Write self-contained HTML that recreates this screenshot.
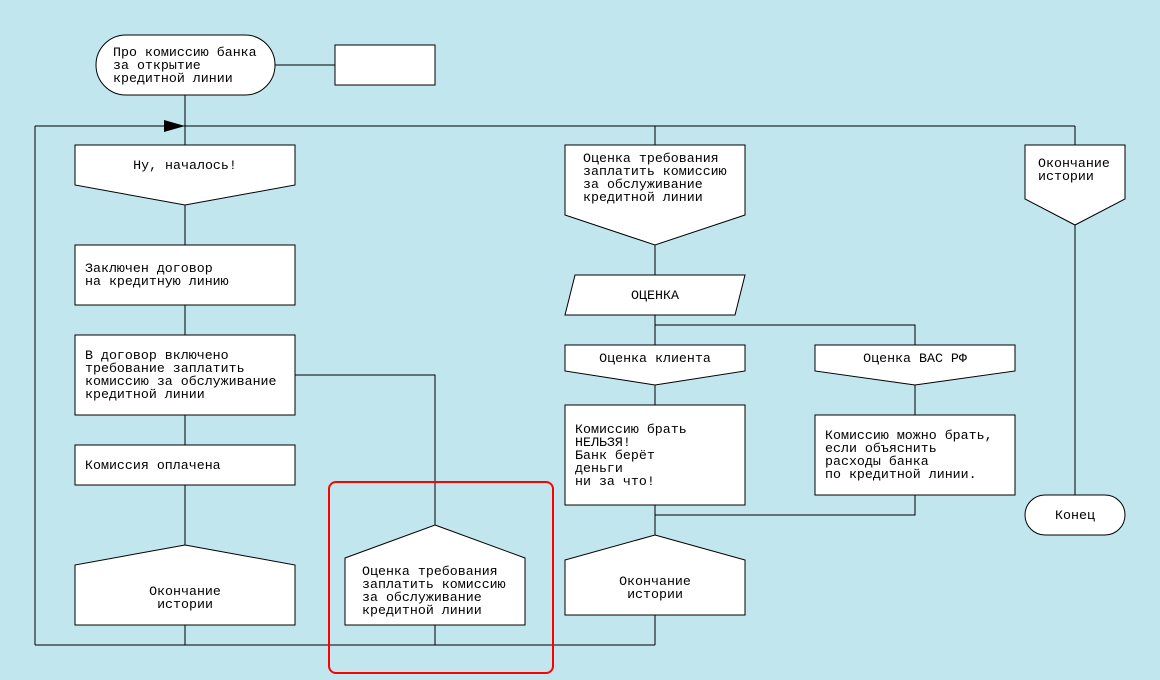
<!DOCTYPE html>
<html><head><meta charset="utf-8"><style>
html,body{margin:0;padding:0;background:#c2e6ee;}
svg{display:block}
text{font-family:"Liberation Mono","DejaVu Sans Mono",monospace;font-size:13.3px;fill:#000;}
</style></head><body>
<svg width="1160" height="680" viewBox="0 0 1160 680" xmlns="http://www.w3.org/2000/svg">
<rect width="1160" height="680" fill="#c2e6ee"/>
<g stroke="#000" stroke-width="1" fill="none">
<line x1="275" y1="65" x2="335" y2="65"/>
<line x1="185" y1="95" x2="185" y2="645"/>
<line x1="35" y1="126" x2="1075" y2="126"/>
<line x1="35" y1="126" x2="35" y2="645"/>
<line x1="35" y1="645" x2="655" y2="645"/>
<polyline points="295,375 435,375 435,645"/>
<line x1="655" y1="126" x2="655" y2="645"/>
<polyline points="655,325 915,325 915,515 655,515"/>
<line x1="1075" y1="126" x2="1075" y2="515"/>
</g>
<polygon points="164,120 185,126 164,132" fill="#000"/>
<g stroke="#000" stroke-width="1" fill="#fff">
<rect x="96" y="35" width="179" height="60" rx="30" ry="30"/>
<rect x="335" y="45" width="100" height="40"/>
<polygon points="75,145 295,145 295,185 185,205 75,185"/>
<rect x="75" y="245" width="220" height="60"/>
<rect x="75" y="335" width="220" height="80"/>
<rect x="75" y="445" width="220" height="40"/>
<polygon points="185,545 295,565 295,625 75,625 75,565"/>
<polygon points="435,525 525,558 525,625 345,625 345,558"/>
<polygon points="565,145 745,145 745,215 655,245 565,215"/>
<polygon points="575,275 745,275 735,315 565,315"/>
<polygon points="565,345 745,345 745,371 655,385 565,371"/>
<polygon points="815,345 1015,345 1015,371 915,385 815,371"/>
<rect x="565" y="405" width="180" height="100"/>
<rect x="815" y="415" width="200" height="80"/>
<polygon points="655,535 745,560 745,615 565,615 565,560"/>
<polygon points="1025,145 1125,145 1125,199 1075,225 1025,199"/>
<rect x="1025" y="495" width="100" height="40" rx="20" ry="20"/>
</g>
<rect x="329" y="482" width="224" height="191" rx="7" ry="7" fill="none" stroke="#f00" stroke-width="2"/>
<text x="113" y="56">Про комиссию банка</text>
<text x="113" y="69">за открытие</text>
<text x="113" y="82">кредитной линии</text>
<text x="185" y="169" text-anchor="middle">Ну, началось!</text>
<text x="85" y="272">Заключен договор</text>
<text x="85" y="285">на кредитную линию</text>
<text x="85" y="359">В договор включено</text>
<text x="85" y="372">требование заплатить</text>
<text x="85" y="385">комиссию за обслуживание</text>
<text x="85" y="398">кредитной линии</text>
<text x="85" y="469">Комиссия оплачена</text>
<text x="185" y="595" text-anchor="middle">Окончание</text>
<text x="185" y="608" text-anchor="middle">истории</text>
<text x="362" y="575">Оценка требования</text>
<text x="362" y="588">заплатить комиссию</text>
<text x="362" y="601">за обслуживание</text>
<text x="362" y="614">кредитной линии</text>
<text x="583" y="162">Оценка требования</text>
<text x="583" y="175">заплатить комиссию</text>
<text x="583" y="188">за обслуживание</text>
<text x="583" y="201">кредитной линии</text>
<text x="655" y="299" text-anchor="middle">ОЦЕНКА</text>
<text x="655" y="362" text-anchor="middle">Оценка клиента</text>
<text x="915" y="362" text-anchor="middle">Оценка ВАС РФ</text>
<text x="575" y="433">Комиссию брать</text>
<text x="575" y="446">НЕЛЬЗЯ!</text>
<text x="575" y="459">Банк берёт</text>
<text x="575" y="472">деньги</text>
<text x="575" y="485">ни за что!</text>
<text x="825" y="439">Комиссию можно брать,</text>
<text x="825" y="452">если объяснить</text>
<text x="825" y="465">расходы банка</text>
<text x="825" y="478">по кредитной линии.</text>
<text x="655" y="585" text-anchor="middle">Окончание</text>
<text x="655" y="598" text-anchor="middle">истории</text>
<text x="1038" y="167">Окончание</text>
<text x="1038" y="180">истории</text>
<text x="1075" y="519" text-anchor="middle">Конец</text>
</svg>
</body></html>
